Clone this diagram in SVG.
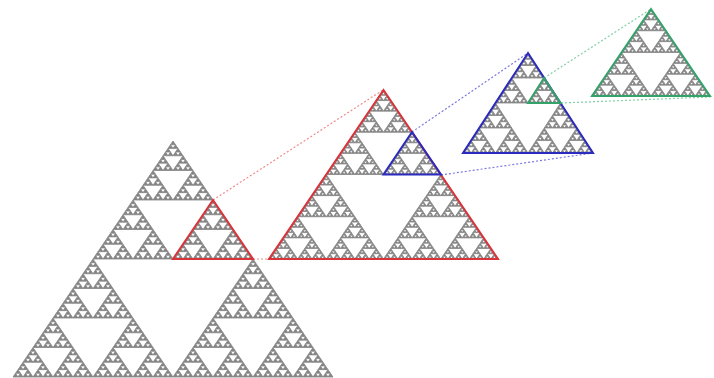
<svg xmlns="http://www.w3.org/2000/svg" width="714" height="378" viewBox="0 0 714 378">
<style>
.hl{fill:none;stroke-width:2;stroke-linejoin:miter}
.red{stroke:#d9343a}
.blue{stroke:#2b2bbf}
.green{stroke:#34a36a}
.dl{fill:none;stroke-width:1.2;stroke-dasharray:2,2}
</style>
<defs>
<path id="t0" d="M0.5,0 L1,1 L0,1 Z" fill="#858585" stroke="#858585" stroke-width="0.8" vector-effect="non-scaling-stroke"/>
<g id="t1"><use href="#t0" transform="translate(0.25,0) scale(0.5)"/><use href="#t0" transform="translate(0,0.5) scale(0.5)"/><use href="#t0" transform="translate(0.5,0.5) scale(0.5)"/></g>
<g id="t2"><use href="#t1" transform="translate(0.25,0) scale(0.5)"/><use href="#t1" transform="translate(0,0.5) scale(0.5)"/><use href="#t1" transform="translate(0.5,0.5) scale(0.5)"/></g>
<g id="t3"><use href="#t2" transform="translate(0.25,0) scale(0.5)"/><use href="#t2" transform="translate(0,0.5) scale(0.5)"/><use href="#t2" transform="translate(0.5,0.5) scale(0.5)"/></g>
<g id="t4"><use href="#t3" transform="translate(0.25,0) scale(0.5)"/><use href="#t3" transform="translate(0,0.5) scale(0.5)"/><use href="#t3" transform="translate(0.5,0.5) scale(0.5)"/></g>
<g id="t5"><use href="#t4" transform="translate(0.25,0) scale(0.5)"/><use href="#t4" transform="translate(0,0.5) scale(0.5)"/><use href="#t4" transform="translate(0.5,0.5) scale(0.5)"/></g>
<g id="t6"><use href="#t5" transform="translate(0.25,0) scale(0.5)"/><use href="#t5" transform="translate(0,0.5) scale(0.5)"/><use href="#t5" transform="translate(0.5,0.5) scale(0.5)"/></g>
</defs>
<rect width="714" height="378" fill="#ffffff"/>
<g id="connectors">
<line class="dl" x1="213" y1="200" x2="383" y2="90" stroke="#f08a8a"/>
<line class="dl" x1="253" y1="259" x2="269" y2="259" stroke="#f08a8a"/>
<line class="dl" x1="412" y1="132" x2="528" y2="53" stroke="#7a7ae0"/>
<line class="dl" x1="441" y1="175" x2="593" y2="153" stroke="#7a7ae0"/>
<line class="dl" x1="544" y1="78" x2="651" y2="9" stroke="#80d0a4"/>
<line class="dl" x1="561" y1="103" x2="710" y2="97" stroke="#80d0a4"/>
</g>
<g id="level0">
<use href="#t6" transform="translate(13,141) scale(320,236)"/>
<path class="hl red" d="M213,200 L253,259 L173,259 Z"/>
</g>
<g id="level1">
<use href="#t6" transform="translate(269,90) scale(229,169)"/>
<path class="hl red" d="M383.5,90 L498,259 L269,259 Z"/>
<path class="hl blue" d="M412,132 L441,174.5 L383.5,174.5 Z"/>
</g>
<g id="level2">
<use href="#t5" transform="translate(463,53) scale(130,100)"/>
<path class="hl blue" d="M528,53 L593,153 L463,153 Z"/>
<path class="hl green" d="M544,78 L560.5,103 L528,103 Z"/>
</g>
<g id="level3">
<use href="#t5" transform="translate(592,9) scale(118,87)"/>
<path class="hl green" d="M651,9 L710,96 L592,96 Z"/>
</g>
</svg>
